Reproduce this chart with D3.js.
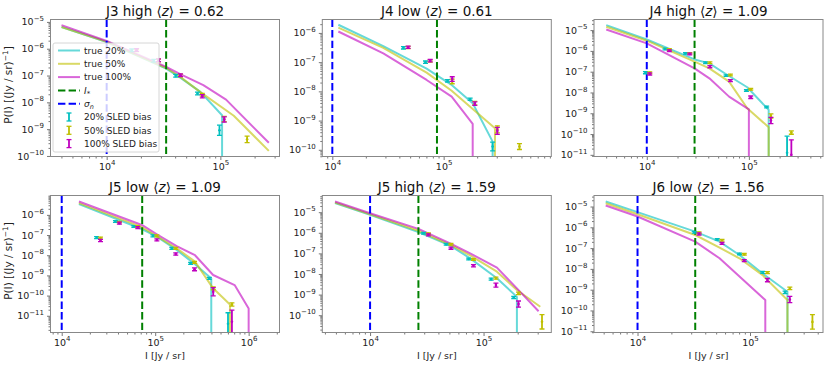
<!DOCTYPE html>
<html>
<head>
<meta charset="utf-8">
<script src="https://cdn.jsdelivr.net/npm/d3@7"></script>
<style>
  body { margin: 0; background: #fff; }
  svg { font-family: "DejaVu Sans", sans-serif; }
</style>
</head>
<body>
<svg id="chart" width="831" height="365"></svg>
<script>
// panel titles
var panelNames = ['J3 high', 'J4 low', 'J4 high', 'J5 low', 'J5 high', 'J6 low'];
var meanZ = ['0.62', '0.61', '1.09', '1.09', '1.59', '1.56'];

// axis limits (log10)
var xLims = [[3.506, 5.52], [3.91, 5.967], [3.483, 5.726], [3.88, 6.33], [3.579, 5.597], [3.613, 5.649]];
var yLims = [[-10.02, -4.91], [-10.23, -5.54], [-11.08, -4.49], [-11.83, -5.04], [-10.84, -4.19], [-11.06, -4.47]];

// vertical markers (log10 of I)
var sigmaN = [4, 4, 4, 4, 4, 4];
var iStar = [4.523, 4.94, 4.468, 4.861, 4.426, 4.513];

// true P(I) curves, [log10 I, log10 P], null = P drops to zero
var true20 = [
  [[3.603, -5.19], [4.0, -5.75], [4.524, -6.74], [4.647, -7.08], [4.824, -7.61], [5.015, -8.48], [5.015, null]],
  [[4.054, -5.72], [4.458, -6.45], [4.847, -7.22], [4.967, -7.52], [5.072, -7.78], [5.261, -8.41], [5.44, -9.72], [5.44, null]],
  [[3.603, -4.76], [4.0, -5.45], [4.468, -6.41], [4.613, -6.6], [4.774, -7.11], [4.984, -7.75], [5.194, -8.84], [5.194, null]],
  [[4.184, -5.47], [4.858, -6.70], [5.018, -7.08], [5.23, -7.74], [5.426, -8.45], [5.60, -9.15], [5.60, null]],
  [[3.691, -4.56], [4.0, -5.13], [4.426, -5.97], [4.706, -6.62], [4.882, -7.24], [5.118, -8.21], [5.294, -9.11], [5.294, null]],
  [[3.717, -4.76], [4.0, -5.27], [4.513, -6.21], [4.729, -6.69], [4.906, -7.33], [5.112, -8.22], [5.333, -9.10], [5.333, null]]
];
var true50 = [
  [[3.603, -5.19], [4.0, -5.74], [4.524, -6.72], [4.647, -7.05], [4.824, -7.62], [5.118, -8.5], [5.426, -9.81]],
  [[4.054, -5.82], [4.458, -6.51], [4.847, -7.36], [5.072, -7.98], [5.461, -9.26], [5.461, null]],
  [[3.603, -4.84], [4.0, -5.51], [4.468, -6.52], [4.613, -6.84], [4.806, -7.48], [4.984, -8.76], [5.194, -9.67], [5.194, null]],
  [[4.184, -5.42], [4.858, -6.61], [5.23, -7.66], [5.426, -8.32], [5.62, -9.64], [5.80, -10.44], [5.80, null]],
  [[3.691, -4.53], [4.0, -5.10], [4.426, -5.90], [4.706, -6.58], [4.882, -7.10], [5.118, -7.89], [5.294, -8.78], [5.5, -9.59]],
  [[3.717, -4.84], [4.0, -5.37], [4.513, -6.37], [4.729, -6.98], [4.906, -7.49], [5.112, -8.30], [5.333, -9.50], [5.333, null]]
];
var true100 = [
  [[3.603, -5.12], [4.0, -5.71], [4.524, -6.68], [4.647, -6.95], [4.85, -7.36], [5.05, -7.9], [5.426, -9.51]],
  [[4.054, -5.95], [4.458, -6.70], [4.847, -7.61], [5.072, -8.18], [5.261, -9.11], [5.261, null]],
  [[3.603, -4.97], [4.0, -5.64], [4.468, -6.84], [4.613, -7.32], [4.806, -8.2], [5.0, -8.81], [5.0, null]],
  [[4.184, -5.34], [4.858, -6.50], [5.018, -6.96], [5.23, -7.55], [5.426, -8.0], [5.62, -8.98], [5.85, -9.48], [6.0, -10.64], [6.0, null]],
  [[3.691, -4.48], [4.0, -5.05], [4.426, -5.81], [4.706, -6.51], [4.882, -7.0], [5.118, -7.69], [5.294, -8.70], [5.485, -9.81]],
  [[3.717, -4.95], [4.0, -5.48], [4.513, -6.69], [4.729, -7.49], [5.136, -9.50], [5.136, null]]
];

// SLED bias measurements: bin centres (log10 I), log10 P and error (dex)
var biasBins = [
  [4.242, 4.435, 4.628, 4.82, 5.013, 5.214],
  [4.66, 4.858, 5.056, 5.259, 5.461, 5.66],
  [4.008, 4.2, 4.4, 4.597, 4.798, 4.997, 5.195, 5.395],
  [4.394, 4.596, 4.793, 4.997, 5.199, 5.40, 5.60, 5.80],
  [4.493, 4.692, 4.89, 5.088, 5.287, 5.494],
  [4.526, 4.73, 4.928, 5.134, 5.333, 5.534]
];
var bias20 = [
  [-6.06, -6.45, -7.01, -7.67, -9.04, null],
  [-6.51, -7.0, -7.64, -8.27, -9.89, null],
  [-7.05, -5.91, -6.12, -6.57, -7.19, -7.91, -8.70, -10.9],
  [-7.13, -6.33, -6.58, -7.04, -7.66, -8.40, -9.15, -11.4],
  [-6.02, -6.56, -7.27, -8.25, -9.14, null],
  [-6.24, -6.58, -7.28, -8.17, -9.13, null]
];
var bias20Err = [
  [0.05, 0.05, 0.05, 0.05, 0.19, 0],
  [0.04, 0.04, 0.04, 0.04, 0.15, 0],
  [0.05, 0.04, 0.04, 0.04, 0.04, 0.04, 0.04, 0.8],
  [0.05, 0.04, 0.04, 0.05, 0.05, 0.05, 0.05, 0.55],
  [0.04, 0.04, 0.04, 0.05, 0.05, 0],
  [0.04, 0.04, 0.04, 0.05, 0.06, 0]
];
var bias50 = [
  [-6.06, -6.44, -7.0, -7.72, -8.62, -9.38],
  [-6.50, -6.96, -7.66, -8.40, -9.30, -9.89],
  [-7.05, -5.93, -6.12, -6.57, -7.16, -7.85, -9.13, -9.93],
  [-7.15, -6.36, -6.58, -7.04, -7.66, -8.35, -9.64, -10.44],
  [-6.05, -6.56, -7.30, -8.20, -8.94, -10.32],
  [-6.26, -6.62, -7.30, -8.18, -8.94, -10.55]
];
var bias50Err = [
  [0.05, 0.05, 0.05, 0.05, 0.1, 0.12],
  [0.04, 0.04, 0.08, 0.06, 0.12, 0.1],
  [0.04, 0.04, 0.04, 0.04, 0.04, 0.04, 0.1, 0.08],
  [0.05, 0.04, 0.04, 0.05, 0.05, 0.05, 0.07, 0.08],
  [0.04, 0.04, 0.04, 0.05, 0.06, 0.35],
  [0.04, 0.04, 0.04, 0.05, 0.06, 0.35]
];
var bias100 = [
  [-6.05, -6.43, -6.99, -7.77, -8.64, null],
  [-6.49, -6.95, -7.58, -8.42, -9.35, null],
  [-7.11, -5.99, -6.15, -6.76, -7.43, -8.23, -9.35, -11.0],
  [-7.27, -6.41, -6.63, -7.24, -7.94, -8.70, -9.81, -11.3],
  [-6.10, -6.75, -7.60, -8.54, -9.46, null],
  [-6.32, -6.77, -7.60, -8.54, -9.47, null]
];
var bias100Err = [
  [0.05, 0.05, 0.05, 0.06, 0.1, 0],
  [0.04, 0.04, 0.08, 0.06, 0.12, 0],
  [0.05, 0.04, 0.04, 0.05, 0.05, 0.06, 0.15, 0.72],
  [0.06, 0.05, 0.05, 0.05, 0.06, 0.07, 0.2, 0.58],
  [0.05, 0.05, 0.05, 0.1, 0.15, 0],
  [0.05, 0.05, 0.05, 0.08, 0.15, 0]
];

var lineColors = ['#00bfbf', '#bfbf00', '#bf00bf'];
var markerColors = ['#00bfbf', '#bfbf00', '#bf00bf'];
var markerShift = [-0.021, 0.021, 0.021];

var svg = d3.select('#chart');
var colX = [50.5, 322.3, 594];
var rowY = [19.5, 195.5];
var width = 229;
var height = 137;

function pow10(v) { return Math.pow(10, v); }

function supText(sel, exp) {
  sel.text('');
  sel.append('tspan').text('10');
  sel.append('tspan')
    .attr('dy', -4.5)
    .attr('font-size', '7px')
    .text(exp < 0 ? '\u2212' + (-exp) : String(exp));
}

function minorTicks(lims) {
  var out = [];
  for (var d = Math.floor(lims[0]); d <= Math.ceil(lims[1]); d++) {
    for (var k = 2; k <= 9; k++) {
      var v = Math.log10(k) + d;
      if (v > lims[0] && v < lims[1]) out.push(pow10(v));
    }
  }
  return out;
}

function majorTicks(lims) {
  var out = [];
  for (var d = Math.ceil(lims[0]); d <= Math.floor(lims[1]); d++) out.push(pow10(d));
  return out;
}

function drawPanel(i) {
  var col = i % 3;
  var row = Math.floor(i / 3);
  var g = svg.append('g')
    .attr('transform', 'translate(' + colX[col] + ',' + rowY[row] + ')');

  var x = d3.scaleLog()
    .domain([pow10(xLims[i][0]), pow10(xLims[i][1])])
    .range([0, width]);
  var y = d3.scaleLog()
    .domain([pow10(yLims[i][0]), pow10(yLims[i][1])])
    .range([height, 0]);

  var clipId = 'clip' + i;
  g.append('clipPath').attr('id', clipId)
    .append('rect').attr('width', width).attr('height', height);

  var plot = g.append('g').attr('clip-path', 'url(#' + clipId + ')');

  // true curves
  var line = d3.line()
    .x(function (d) { return x(pow10(d[0])); })
    .y(function (d) { return d[1] === null ? height + 30 : y(pow10(d[1])); });

  [true20, true50, true100].forEach(function (series, s) {
    plot.append('path')
      .datum(series[i])
      .attr('d', line)
      .attr('fill', 'none')
      .attr('stroke', lineColors[s])
      .attr('stroke-opacity', 0.6)
      .attr('stroke-width', 2)
      .attr('stroke-linejoin', 'round');
  });

  // I* and sigma_n
  plot.append('line')
    .attr('x1', x(pow10(iStar[i]))).attr('x2', x(pow10(iStar[i])))
    .attr('y1', 0).attr('y2', height)
    .attr('stroke', '#008000').attr('stroke-width', 2)
    .attr('stroke-dasharray', '7.4,3.2');
  plot.append('line')
    .attr('x1', x(pow10(sigmaN[i]))).attr('x2', x(pow10(sigmaN[i])))
    .attr('y1', 0).attr('y2', height)
    .attr('stroke', '#0000ff').attr('stroke-width', 2)
    .attr('stroke-dasharray', '7.4,3.2');

  // SLED bias error bars
  [[bias20, bias20Err], [bias50, bias50Err], [bias100, bias100Err]].forEach(function (pair, s) {
    var pts = biasBins[i].map(function (b, k) {
      return { lx: b + markerShift[s], p: pair[0][i][k], e: pair[1][i][k] };
    }).filter(function (d) { return d.p !== null; });

    var eb = plot.append('g').selectAll('g')
      .data(pts)
      .enter().append('g')
      .attr('stroke', markerColors[s])
      .attr('fill', markerColors[s]);

    eb.append('line')
      .attr('x1', function (d) { return x(pow10(d.lx)); })
      .attr('x2', function (d) { return x(pow10(d.lx)); })
      .attr('y1', function (d) { return y(pow10(d.p - d.e)); })
      .attr('y2', function (d) { return y(pow10(d.p + d.e)); })
      .attr('stroke-width', 1.8);
    [-1, 1].forEach(function (sign) {
      eb.append('line')
        .attr('x1', function (d) { return x(pow10(d.lx)) - 2.5; })
        .attr('x2', function (d) { return x(pow10(d.lx)) + 2.5; })
        .attr('y1', function (d) { return y(pow10(d.p + sign * d.e)); })
        .attr('y2', function (d) { return y(pow10(d.p + sign * d.e)); })
        .attr('stroke-width', 1.3);
    });
    eb.append('circle')
      .attr('cx', function (d) { return x(pow10(d.lx)); })
      .attr('cy', function (d) { return y(pow10(d.p)); })
      .attr('r', 1.3)
      .attr('stroke', 'none');
  });

  // axes
  var xMinor = g.append('g').attr('transform', 'translate(0,' + height + ')')
    .call(d3.axisBottom(x).tickValues(minorTicks(xLims[i])).tickSize(2).tickFormat(''));
  var yMinor = g.append('g')
    .call(d3.axisLeft(y).tickValues(minorTicks(yLims[i])).tickSize(2).tickFormat(''));
  var xAxis = g.append('g').attr('transform', 'translate(0,' + height + ')')
    .call(d3.axisBottom(x).tickValues(majorTicks(xLims[i])).tickSize(3.5).tickPadding(3));
  var yAxis = g.append('g')
    .call(d3.axisLeft(y).tickValues(majorTicks(yLims[i])).tickSize(3.5).tickPadding(3));

  [xMinor, yMinor, xAxis, yAxis].forEach(function (a) {
    a.select('.domain').remove();
    a.selectAll('.tick line').attr('stroke', '#555').attr('stroke-width', 0.8);
    a.selectAll('text').attr('font-size', '9.5px').attr('fill', '#222')
      .attr('font-family', '"DejaVu Sans", sans-serif');
  });
  xAxis.selectAll('.tick text').each(function (d) {
    supText(d3.select(this), Math.round(Math.log10(d)));
  });
  yAxis.selectAll('.tick text').each(function (d) {
    supText(d3.select(this), Math.round(Math.log10(d)));
  });

  // frame
  g.append('rect')
    .attr('width', width).attr('height', height)
    .attr('fill', 'none').attr('stroke', '#888').attr('stroke-width', 1);

  // title
  var title = g.append('text')
    .attr('x', width / 2).attr('y', -3.5)
    .attr('text-anchor', 'middle')
    .attr('font-size', '13.5px').attr('fill', '#111');
  title.append('tspan').text(panelNames[i] + ' \u27E8');
  title.append('tspan').attr('font-style', 'italic').text('z');
  title.append('tspan').text('\u27E9 = ' + meanZ[i]);

  if (col === 0) {
    var yl = g.append('text')
      .attr('transform', 'translate(-38.5,' + (height / 2 - 3) + ') rotate(-90)')
      .attr('text-anchor', 'middle')
      .attr('font-size', '10.5px').attr('fill', '#222');
    yl.append('tspan').text('P(I) [(Jy / sr)');
    yl.append('tspan').attr('dy', -4.5).attr('font-size', '7.5px').text('\u22121');
    yl.append('tspan').attr('dy', 4.5).text(']');
  }
  if (row === 1) {
    g.append('text')
      .attr('x', width / 2).attr('y', height + 26)
      .attr('text-anchor', 'middle')
      .attr('font-size', '9.5px').attr('fill', '#222')
      .text('I [Jy / sr]');
  }
  return g;
}

for (var i = 0; i < 6; i++) drawPanel(i);

// legend in first panel
var legendItems = [
  { label: 'true 20%', type: 'line', color: lineColors[0] },
  { label: 'true 50%', type: 'line', color: lineColors[1] },
  { label: 'true 100%', type: 'line', color: lineColors[2] },
  { label: 'I*', type: 'dash', color: '#008000' },
  { label: 'sigma', type: 'dash', color: '#0000ff' },
  { label: '20% SLED bias', type: 'err', color: markerColors[0] },
  { label: '50% SLED bias', type: 'err', color: markerColors[1] },
  { label: '100% SLED bias', type: 'err', color: markerColors[2] }
];

var legend = svg.append('g').attr('transform', 'translate(53,43)');
legend.append('rect')
  .attr('width', 106).attr('height', 109)
  .attr('rx', 2)
  .attr('fill', '#fff').attr('fill-opacity', 0.8)
  .attr('stroke', '#ccc').attr('stroke-width', 0.8);

var rows = legend.selectAll('g.item')
  .data(legendItems)
  .enter().append('g')
  .attr('class', 'item')
  .attr('transform', function (d, k) { return 'translate(0,' + (7.5 + k * 13.3) + ')'; });

rows.each(function (d) {
  var r = d3.select(this);
  if (d.type === 'line' || d.type === 'dash') {
    r.append('line')
      .attr('x1', 5).attr('x2', 27).attr('y1', 0).attr('y2', 0)
      .attr('stroke', d.color).attr('stroke-width', 2)
      .attr('stroke-opacity', d.type === 'line' ? 0.6 : 1)
      .attr('stroke-dasharray', d.type === 'dash' ? '7.4,3.2' : null);
  } else {
    r.append('line').attr('x1', 16).attr('x2', 16).attr('y1', -4).attr('y2', 4)
      .attr('stroke', d.color).attr('stroke-width', 1.8);
    r.append('line').attr('x1', 13.5).attr('x2', 18.5).attr('y1', -4).attr('y2', -4)
      .attr('stroke', d.color).attr('stroke-width', 1.3);
    r.append('line').attr('x1', 13.5).attr('x2', 18.5).attr('y1', 4).attr('y2', 4)
      .attr('stroke', d.color).attr('stroke-width', 1.3);
  }
  var t = r.append('text').attr('x', 31).attr('y', 3.3)
    .attr('font-size', '9px').attr('fill', '#222');
  if (d.type === 'dash' && d.label === 'I*') {
    t.append('tspan').attr('font-style', 'italic').text('I');
    t.append('tspan').attr('dy', 2).attr('font-size', '7px').text('*');
  } else if (d.label === 'sigma') {
    t.append('tspan').attr('font-style', 'italic').text('\u03C3');
    t.append('tspan').attr('dy', 2).attr('font-size', '6.5px').attr('font-style', 'italic').text('n');
  } else {
    t.text(d.label);
  }
});
</script>
</body>
</html>
